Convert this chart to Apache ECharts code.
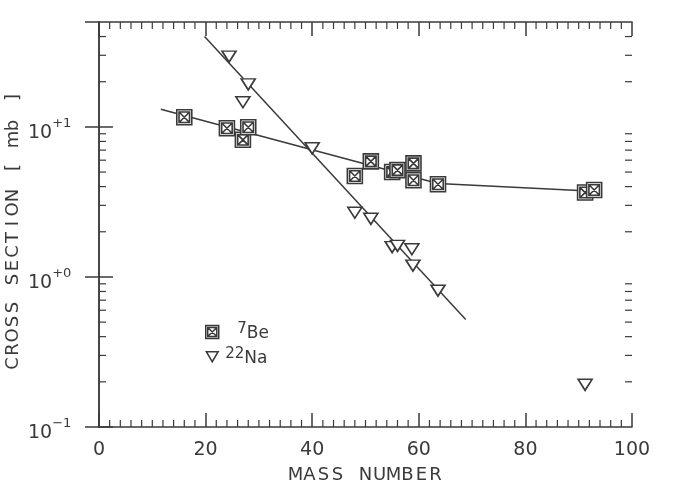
<!DOCTYPE html>
<html>
<head>
<meta charset="utf-8">
<script src="https://cdn.jsdelivr.net/npm/echarts@6/dist/echarts.min.js"></script>
<style>html,body{margin:0;padding:0;background:#fff;}#c{width:675px;height:487px;}</style>
</head>
<body>
<div id="c"></div>
<script>
// ---- data ----
const beMass   = [16, 24, 27, 28, 48, 51, 55, 56, 59, 59, 63.6, 91.2, 92.9];
const beSigma  = [11.6, 9.8, 8.2, 9.95, 4.71, 5.89, 5.01, 5.15, 5.71, 4.41, 4.15, 3.65, 3.80];
const naMass   = [24.4, 27, 28, 40, 48, 51, 55, 56, 58.7, 58.9, 63.6, 91.2];
const naSigma  = [29.4, 14.6, 19.2, 7.2, 2.68, 2.44, 1.58, 1.61, 1.53, 1.19, 0.81, 0.191];
const beFitMass  = [11.6, 63.6, 91];
const beFitSigma = [13.1, 4.2, 3.75];
const naFitMass  = [19.8, 68.8];
const naFitSigma = [40, 0.52];
const yMinorTickValues = [0.2,0.3,0.4,0.5,0.6,0.7,0.8,0.9,2,3,4,5,6,7,8,9,20,30,40];
const xMinorTickValues = [2,4,6,8,10,12,14,16,18,22,24,26,28,30,32,34,36,38,
                          42,44,46,48,50,52,54,56,58,62,64,66,68,70,72,74,76,78,
                          82,84,86,88,90,92,94,96,98];
const seriesNames = ['7Be', '22Na'];
const xTitle = 'MASS NUMBER';
const yTitle = 'CROSS SECTION [ mb ]';

const INK = '#3a3a3a';
const FONT = 'DejaVu Sans';
const chart = echarts.init(document.getElementById('c'), null, {renderer: 'canvas'});

function pairs(xs, ys) { return xs.map((x, i) => [x, ys[i]]); }
// plotter-style fixed pitch lettering: each character in its own fixed-width cell
function pitched(str) {
  return str.split('').map(ch => '{c|' + (ch === ' ' ? '\u00a0' : ch) + '}').join('');
}
const pitchRich = {c: {width: 14, align: 'center', fontFamily: FONT, fontSize: 18, color: INK, lineHeight: 20}};

const squareSym = 'path://M0,0H20V20H0Z M3,3H17V17H3Z M3,3L17,17 M17,3L3,17';
const triSym = 'path://M0,0H20L10,17Z';
const triLegendSym = 'path://M-1,-2M21,20M0,0H20L10,17Z';

const xCommon = {
  type: 'value', min: 0, max: 100, interval: 20,
  axisLine: {show: true, lineStyle: {color: INK, width: 1.5}},
  axisTick: {show: true, inside: true, length: 14, lineStyle: {color: INK, width: 1.5}},
  minorTick: {show: false},
  splitLine: {show: false}
};
const yCommon = {
  type: 'log', logBase: 10, min: 0.1, max: 50,
  axisLine: {show: true, lineStyle: {color: INK, width: 1.5}},
  axisTick: {show: true, inside: true, length: 14, lineStyle: {color: INK, width: 1.5}},
  splitLine: {show: false}
};

function tickRenderer(horizontal) {
  return function (params, api) {
    const cs = params.coordSys;
    const st = {stroke: INK, lineWidth: 1.2};
    let a, b;
    if (horizontal) {
      const x = api.coord([api.value(0), 1])[0];
      a = {x1: x, y1: cs.y + cs.height, x2: x, y2: cs.y + cs.height - 7};
      b = {x1: x, y1: cs.y, x2: x, y2: cs.y + 7};
    } else {
      const y = api.coord([0, api.value(1)])[1];
      a = {x1: cs.x, y1: y, x2: cs.x + 7, y2: y};
      b = {x1: cs.x + cs.width - 7, y1: y, x2: cs.x + cs.width, y2: y};
    }
    return {type: 'group', children: [
      {type: 'line', shape: a, style: st},
      {type: 'line', shape: b, style: st}
    ]};
  };
}

chart.setOption({
  animation: false,
  backgroundColor: '#fff',
  grid: {left: 99, right: 43, top: 22, bottom: 60, containLabel: false, outerBoundsMode: 'none'},
  xAxis: [
    Object.assign({}, xCommon, {
      position: 'bottom',
      name: pitched(xTitle), nameLocation: 'middle', nameGap: 38, nameMoveOverlap: false,
      nameTextStyle: {rich: pitchRich, lineHeight: 20},
      axisLabel: {show: true, margin: 14, fontFamily: FONT, fontSize: 19, color: INK}
    }),
    Object.assign({}, xCommon, {position: 'top', axisLabel: {show: false}})
  ],
  yAxis: [
    Object.assign({}, yCommon, {
      position: 'left',
      name: pitched(yTitle), nameLocation: 'middle', nameGap: 76, nameRotate: 90, nameMoveOverlap: false,
      nameTextStyle: {rich: pitchRich, lineHeight: 20, padding: [0, 12, 0, 0]},
      axisLabel: {
        show: true, align: 'left', margin: 71, showMaxLabel: false,
        padding: [6, 0, 0, 0],
        formatter: function (v) {
          const e = Math.round(Math.log10(v));
          return '{b|10}{s|' + (e < 0 ? '\u2212' + (-e) : '+' + e) + '}';
        },
        rich: {
          b: {fontFamily: FONT, fontSize: 19, color: INK, lineHeight: 26, verticalAlign: 'bottom'},
          s: {fontFamily: FONT, fontSize: 13, color: INK, lineHeight: 26, verticalAlign: 'top'}
        }
      }
    }),
    Object.assign({}, yCommon, {position: 'right', axisLabel: {show: false}})
  ],
  legend: {
    show: true, orient: 'vertical', left: 200, top: 317,
    itemWidth: 14, itemHeight: 13, itemGap: 5,
    data: [
      {name: seriesNames[0], icon: squareSym, itemStyle: {color: '#fff', borderColor: INK, borderWidth: 1.5}},
      {name: seriesNames[1], icon: triLegendSym, itemStyle: {color: '#fff', borderColor: INK, borderWidth: 1.5}}
    ],
    formatter: function (name) {
      return name === seriesNames[0] ? '{p|}{s|7}{b|Be}' : '{q|}{s|22}{b|Na}';
    },
    textStyle: {
      color: INK,
      rich: {
        p: {width: 13},
        q: {width: 1},
        s: {fontFamily: FONT, fontSize: 15, color: INK, lineHeight: 20, verticalAlign: 'top'},
        b: {fontFamily: FONT, fontSize: 17, color: INK, lineHeight: 20, verticalAlign: 'bottom'}
      }
    }
  },
  series: [
    {
      type: 'custom', name: 'yMinorTicks', silent: true,
      data: yMinorTickValues.map(v => [0, v]),
      renderItem: tickRenderer(false)
    },
    {
      type: 'custom', name: 'xMinorTicks', silent: true,
      data: xMinorTickValues.map(v => [v, 1]),
      renderItem: tickRenderer(true)
    },
    {
      type: 'line', name: 'beFit', data: pairs(beFitMass, beFitSigma),
      symbol: 'none', lineStyle: {color: INK, width: 1.5}, silent: true, z: 2
    },
    {
      type: 'line', name: 'naFit', data: pairs(naFitMass, naFitSigma),
      symbol: 'none', lineStyle: {color: INK, width: 1.5}, silent: true, z: 2
    },
    {
      type: 'scatter', name: seriesNames[0], data: pairs(beMass, beSigma),
      symbol: squareSym, symbolSize: 15,
      itemStyle: {color: '#fff', borderColor: INK, borderWidth: 1.6, opacity: 1}, z: 4
    },
    {
      type: 'scatter', name: seriesNames[1], data: pairs(naMass, naSigma),
      symbol: triSym, symbolSize: [14, 11],
      itemStyle: {color: '#fff', borderColor: INK, borderWidth: 1.6, opacity: 1}, z: 3
    }
  ]
});
</script>
</body>
</html>
